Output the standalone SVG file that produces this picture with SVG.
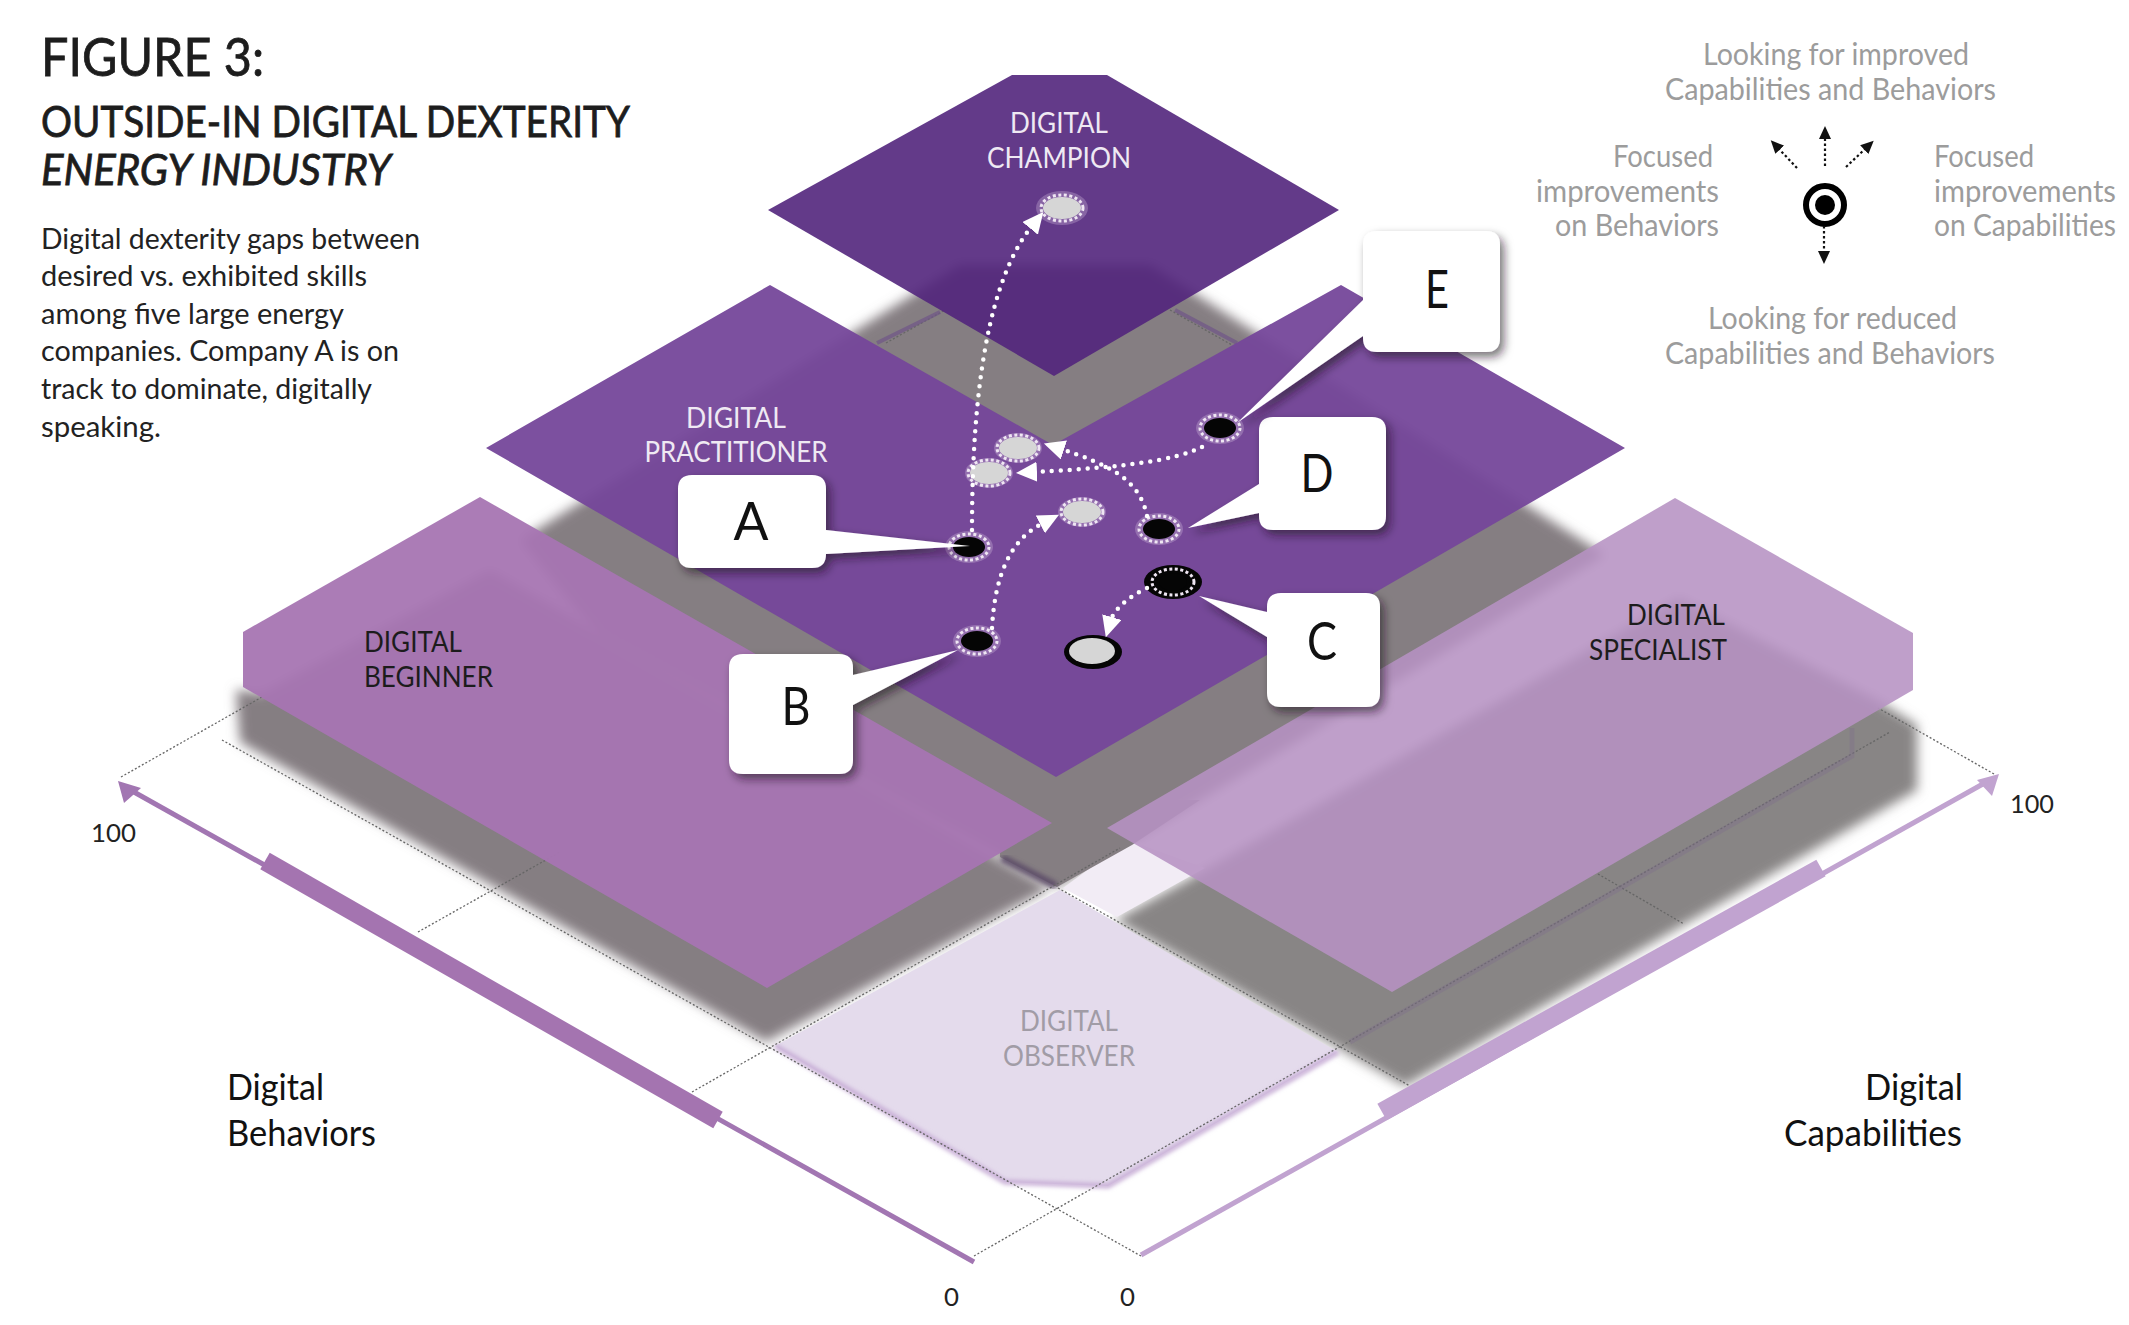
<svg xmlns="http://www.w3.org/2000/svg" width="2129" height="1325" viewBox="0 0 2129 1325">
<style>
text{font-family:Lato,"Liberation Sans",sans-serif}
.t{font-size:29px;fill:#222}
.w{font-size:28px;fill:#efe9f3;text-anchor:middle}
.k{font-size:28px;fill:#1c1c1c}
.o{font-size:28px;fill:#a19ca6;text-anchor:middle}
.l{font-size:30px;fill:#9c9c9c}
.a{font-size:37px;fill:#111}
.n{font-size:25px;fill:#222}
.c{font-size:52px;fill:#111;text-anchor:middle}
.h{fill:#1d1d1d;stroke:#1d1d1d;stroke-width:.8}
.grid{fill:none;stroke:#666;stroke-width:1.3;stroke-dasharray:2 2}
.strip{fill:none;stroke:#6f5688;stroke-width:4;stroke-opacity:.7}
.strip2{fill:none;stroke:#7f6c8c;stroke-width:5;stroke-opacity:.35}
.card{fill:#fff;filter:url(#sh)}
.dots{fill:none;stroke:#fff;stroke-width:4.5;stroke-linecap:round;stroke-dasharray:0 9;marker-end:url(#wh)}
.ldots{fill:none;stroke:#111;stroke-width:2.2;stroke-dasharray:2.5 2.5;marker-end:url(#bh)}
.blk{fill:#050505}
.gry{fill:#d6d6d6}
.halo{fill:#d9c6e3;fill-opacity:.3}
.ring{fill:none;stroke:#efe6f3;stroke-width:3;stroke-dasharray:3 2.5}
</style>
<defs>
<filter id="b6" x="-10%" y="-10%" width="120%" height="120%"><feGaussianBlur stdDeviation="6"/></filter>
<filter id="b2" x="-10%" y="-10%" width="120%" height="120%"><feGaussianBlur stdDeviation="2"/></filter>
<filter id="sh" x="-30%" y="-30%" width="170%" height="170%"><feDropShadow dx="4" dy="5" stdDeviation="5" flood-color="#1a1020" flood-opacity=".6"/></filter>
<marker id="wh" markerUnits="userSpaceOnUse" markerWidth="24" markerHeight="22" refX="3" refY="10" orient="auto"><path d="M0,0L21,10L0,20z" fill="#fff"/></marker>
<marker id="bh" markerUnits="userSpaceOnUse" markerWidth="14" markerHeight="14" refX="1" refY="6" orient="auto"><path d="M0,0L13,6L0,12z" fill="#111"/></marker>
</defs>

<g id="shadows" fill="#857e82">
<polygon filter="url(#b6)" points="520,540 960,265 1150,265 1605,555 1057,887 600,640"/>
<polygon filter="url(#b6)" points="262,693 236,690 240,742 766,1042 1050,888 490,570"/>
<polygon filter="url(#b6)" fill="#888585" points="1115,920 1405,1086 1917,790 1917,725 1877,700 1679,598 1187,880"/>
</g>

<g id="observer">
<polygon points="1060,890 775,1046 1005,1182 1108,1186 1338,1052" fill="#e4dbec"/>
<polyline points="775,1046 1005,1182 1108,1186 1338,1052" fill="none" stroke="#c7add6" stroke-width="5" filter="url(#b2)"/>
<polygon points="1063,888 1128,840 1205,868 1117,917" fill="#f2ecf5"/>
<polygon points="1000,800 1000,857 1057,887 1132,845 1200,800" fill="#857e82"/>
<path d="M1002,858L1056,886" stroke="#5a4866" stroke-width="8" filter="url(#b2)" opacity=".8"/>
<text class="o" x="1069" y="1031" textLength="98" lengthAdjust="spacingAndGlyphs">DIGITAL</text>
<text class="o" x="1069" y="1066" textLength="132" lengthAdjust="spacingAndGlyphs">OBSERVER</text>
</g>

<g id="grid-lines">
<path class="grid" d="M121,777L262,697M418,932L560,852M692,1092L1120,848M974,1256L1890,732M1994,774L1878,708M1598,874L1684,924M1058,888L1410,1086M222,740L1141,1256M886,343L945,310M1170,310L1232,345"/>
<path class="strip" d="M877,343L940,312M1175,310L1237,343"/>
<path class="strip2" d="M1852,728V756L1350,1042"/>
</g>

<g id="beginner">
<polygon points="243,632 480,497 1052,823 767,988 243,687" fill="#a675b2" fill-opacity=".95"/>
<text class="k" x="364" y="652" textLength="98" lengthAdjust="spacingAndGlyphs">DIGITAL</text>
<text class="k" x="364" y="687" textLength="129" lengthAdjust="spacingAndGlyphs">BEGINNER</text>
</g>

<g id="specialist">
<polygon points="1675,498 1913,633 1913,690 1392,992 1107,828" fill="#b692c3" fill-opacity=".88"/>
<text class="k" x="1627" y="625" textLength="98" lengthAdjust="spacingAndGlyphs">DIGITAL</text>
<text class="k" x="1589" y="660" textLength="138" lengthAdjust="spacingAndGlyphs">SPECIALIST</text>
</g>

<g id="practitioner">
<polygon points="486,448 770,285 1053,445 1341,285 1625,448 1056,777" fill="#75479a" fill-opacity=".95"/>
<text class="w" x="736" y="428" textLength="100" lengthAdjust="spacingAndGlyphs">DIGITAL</text>
<text class="w" x="736" y="462" textLength="183" lengthAdjust="spacingAndGlyphs">PRACTITIONER</text>
</g>

<g id="champion">
<polygon points="1012,75 1107,75 1339,210 1054,376 768,210" fill="#52257c" fill-opacity=".9"/>
<text class="w" x="1059" y="133" textLength="98" lengthAdjust="spacingAndGlyphs">DIGITAL</text>
<text class="w" x="1059" y="168" textLength="144" lengthAdjust="spacingAndGlyphs">CHAMPION</text>
</g>

<g id="axes" fill="none">
<path d="M974,1262L125,787" stroke="#a276b2" stroke-width="5"/>
<polygon points="118,781 141,788 124,803" fill="#a276b2"/>
<path d="M265,861L718,1120" stroke="#a474b0" stroke-width="19"/>
<path d="M1141,1255L1990,780" stroke="#c1a3d0" stroke-width="5"/>
<polygon points="1999,774 1977,780 1992,796" fill="#c1a3d0"/>
<path d="M1382,1112L1821,868" stroke="#c1a3d0" stroke-width="19"/>
<text class="n" x="91" y="842" textLength="45" lengthAdjust="spacingAndGlyphs" stroke="none">100</text>
<text class="n" x="2010" y="813" textLength="44" lengthAdjust="spacingAndGlyphs" stroke="none">100</text>
<text class="n" x="944" y="1306" textLength="15" lengthAdjust="spacingAndGlyphs" stroke="none">0</text>
<text class="n" x="1120" y="1306" textLength="15" lengthAdjust="spacingAndGlyphs" stroke="none">0</text>
<text class="a" x="227" y="1100" textLength="97" lengthAdjust="spacingAndGlyphs" stroke="none">Digital</text>
<text class="a" x="227" y="1146" textLength="149" lengthAdjust="spacingAndGlyphs" stroke="none">Behaviors</text>
<text class="a" x="1865" y="1100" textLength="98" lengthAdjust="spacingAndGlyphs" stroke="none">Digital</text>
<text class="a" x="1784" y="1146" textLength="178" lengthAdjust="spacingAndGlyphs" stroke="none">Capabilities</text>
</g>

<g id="markers">
<g id="dot-champion"><ellipse class="halo" cx="1062" cy="208" rx="26" ry="17"/><ellipse class="gry" cx="1062" cy="208" rx="19" ry="11"/><ellipse class="ring" cx="1062" cy="208" rx="21" ry="13"/></g>
<g id="dot-e"><ellipse class="halo" cx="1220" cy="428" rx="24" ry="16"/><ellipse class="blk" cx="1220" cy="428" rx="16" ry="10"/><ellipse class="ring" cx="1220" cy="428" rx="20" ry="13"/></g>
<g id="dot-d"><ellipse class="halo" cx="1159" cy="529" rx="24" ry="16"/><ellipse class="blk" cx="1159" cy="529" rx="16" ry="10"/><ellipse class="ring" cx="1159" cy="529" rx="20" ry="13"/></g>
<g id="dot-a"><ellipse class="halo" cx="969" cy="547" rx="24" ry="16"/><ellipse class="blk" cx="969" cy="547" rx="16" ry="10"/><ellipse class="ring" cx="969" cy="547" rx="20" ry="13"/></g>
<g id="dot-b"><ellipse class="halo" cx="977" cy="641" rx="24" ry="16"/><ellipse class="blk" cx="977" cy="641" rx="16" ry="10"/><ellipse class="ring" cx="977" cy="641" rx="20" ry="13"/></g>
<g id="dot-c"><ellipse class="blk" cx="1173" cy="582" rx="29" ry="17"/><ellipse class="ring" cx="1173" cy="582" rx="21" ry="13"/><ellipse class="blk" cx="1173" cy="582" rx="14" ry="9"/></g>
<g id="target-c"><ellipse class="blk" cx="1093" cy="652" rx="29" ry="17"/><ellipse class="gry" cx="1092" cy="651" rx="23" ry="13"/></g>
<g id="target-e"><ellipse class="halo" cx="989" cy="473" rx="24" ry="15"/><ellipse class="gry" cx="989" cy="473" rx="19" ry="11"/><ellipse class="ring" cx="989" cy="473" rx="21" ry="13"/></g>
<g id="target-d"><ellipse class="halo" cx="1018" cy="448" rx="24" ry="15"/><ellipse class="gry" cx="1018" cy="448" rx="19" ry="11"/><ellipse class="ring" cx="1018" cy="448" rx="21" ry="13"/></g>
<g id="target-b"><ellipse class="halo" cx="1082" cy="512" rx="24" ry="15"/><ellipse class="gry" cx="1082" cy="512" rx="19" ry="11"/><ellipse class="ring" cx="1082" cy="512" rx="21" ry="13"/></g>
</g>

<g id="connectors">
<path class="dots" d="M972,530C972,430 980,290 1032,226"/>
<path class="dots" d="M992,628C995,575 1010,540 1043,523"/>
<path class="dots" d="M1147,516C1140,480 1110,465 1061,449"/>
<path class="dots" d="M1202,447C1175,460 1130,467 1034,472"/>
<path class="dots" d="M1147,588C1128,597 1114,610 1111,620"/>
</g>

<g id="callout-a"><path class="card" d="M692,475H812Q826,475 826,489V530L970,546L826,554Q826,568 812,568H692Q678,568 678,554V489Q678,475 692,475z"/><text class="c" x="751" y="540" textLength="35" lengthAdjust="spacingAndGlyphs">A</text></g>
<g id="callout-b"><path class="card" d="M743,654H839Q853,654 853,668V675L958,650L853,705V760Q853,774 839,774H743Q729,774 729,760V668Q729,654 743,654z"/><text class="c" x="796" y="725" textLength="29" lengthAdjust="spacingAndGlyphs">B</text></g>
<g id="callout-c"><path class="card" d="M1281,593H1366Q1380,593 1380,607V693Q1380,707 1366,707H1281Q1267,707 1267,693V637L1199,596L1267,612V607Q1267,593 1281,593z"/><text class="c" x="1322" y="660" textLength="30" lengthAdjust="spacingAndGlyphs">C</text></g>
<g id="callout-d"><path class="card" d="M1273,417H1372Q1386,417 1386,431V516Q1386,530 1372,530H1273Q1259,530 1259,516V513L1188,528L1259,484V431Q1259,417 1273,417z"/><text class="c" x="1317" y="492" textLength="33" lengthAdjust="spacingAndGlyphs">D</text></g>
<g id="callout-e"><path class="card" d="M1377,231H1486Q1500,231 1500,245V338Q1500,352 1486,352H1377Q1363,352 1363,338V336L1237,423L1363,300V245Q1363,231 1377,231z"/><text class="c" x="1437" y="308" textLength="24" lengthAdjust="spacingAndGlyphs">E</text></g>

<g id="legend">
<text class="l" x="1703" y="65" textLength="266" lengthAdjust="spacingAndGlyphs">Looking for improved</text>
<text class="l" x="1665" y="100" textLength="331" lengthAdjust="spacingAndGlyphs">Capabilities and Behaviors</text>
<text class="l" x="1613" y="167" textLength="100" lengthAdjust="spacingAndGlyphs">Focused</text>
<text class="l" x="1536" y="202" textLength="183" lengthAdjust="spacingAndGlyphs">improvements</text>
<text class="l" x="1555" y="236" textLength="164" lengthAdjust="spacingAndGlyphs">on Behaviors</text>
<text class="l" x="1934" y="167" textLength="100" lengthAdjust="spacingAndGlyphs">Focused</text>
<text class="l" x="1934" y="202" textLength="182" lengthAdjust="spacingAndGlyphs">improvements</text>
<text class="l" x="1934" y="236" textLength="182" lengthAdjust="spacingAndGlyphs">on Capabilities</text>
<text class="l" x="1708" y="329" textLength="249" lengthAdjust="spacingAndGlyphs">Looking for reduced</text>
<text class="l" x="1665" y="364" textLength="330" lengthAdjust="spacingAndGlyphs">Capabilities and Behaviors</text>
<circle cx="1825" cy="205" r="19" fill="#fff" stroke="#000" stroke-width="6"/>
<circle cx="1825" cy="205" r="10" fill="#000"/>
<path class="ldots" d="M1825,166V138"/>
<path class="ldots" d="M1797,168L1779,149"/>
<path class="ldots" d="M1846,167L1865,149"/>
<path class="ldots" d="M1824,226V252"/>
</g>

<g id="heading">
<text class="h" x="41" y="76" font-size="52" textLength="223" lengthAdjust="spacingAndGlyphs">FIGURE 3:</text>
<text class="h" x="41" y="137" font-size="43" textLength="589" lengthAdjust="spacingAndGlyphs">OUTSIDE-IN DIGITAL DEXTERITY</text>
<text class="h" x="41" y="185" font-size="43" font-style="italic" textLength="350" lengthAdjust="spacingAndGlyphs">ENERGY INDUSTRY</text>
<text class="t" x="41" y="249" textLength="379" lengthAdjust="spacingAndGlyphs">Digital dexterity gaps between</text>
<text class="t" x="41" y="286" textLength="326" lengthAdjust="spacingAndGlyphs">desired vs. exhibited skills</text>
<text class="t" x="41" y="324" textLength="303" lengthAdjust="spacingAndGlyphs">among five large energy</text>
<text class="t" x="41" y="361" textLength="358" lengthAdjust="spacingAndGlyphs">companies. Company A is on</text>
<text class="t" x="41" y="399" textLength="331" lengthAdjust="spacingAndGlyphs">track to dominate, digitally</text>
<text class="t" x="41" y="437" textLength="120" lengthAdjust="spacingAndGlyphs">speaking.</text>
</g>
</svg>
